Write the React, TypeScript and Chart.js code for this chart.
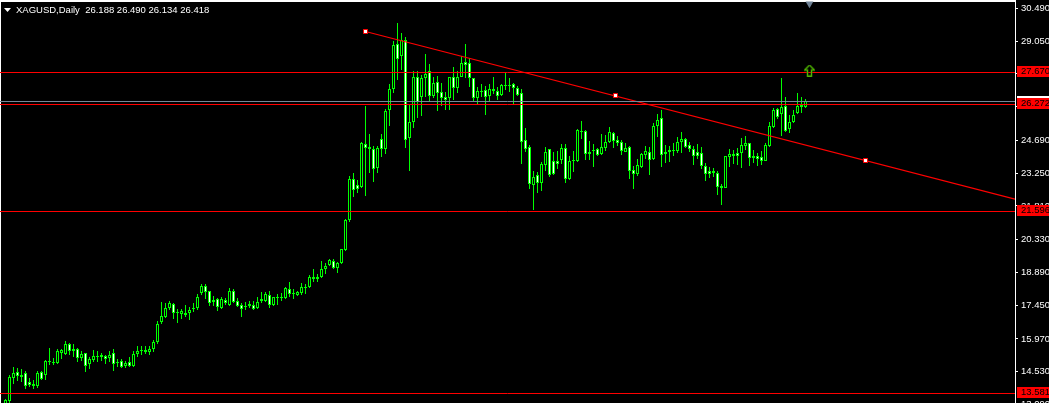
import React, { useEffect, useRef } from "react";
import { Chart, registerables } from "chart.js";

Chart.register(...registerables);

const opens = [13.116,13.248,14.258,14.521,14.389,14.477,14.082,13.907,13.907,14.521,14.389,15.004,14.916,14.916,15.355,15.311,15.750,15.531,15.531,15.136,15.355,14.872,15.048,15.224,15.267,15.224,15.136,15.355,14.960,15.004,14.785,14.960,14.785,15.311,15.487,15.487,15.399,15.531,15.838,16.716,16.936,17.331,17.506,17.155,17.067,17.111,17.111,17.331,17.331,17.989,18.297,18.077,17.682,17.726,17.331,17.682,17.463,18.077,17.638,17.463,17.419,17.506,17.463,17.331,17.726,17.638,17.901,17.463,17.814,17.814,17.770,18.165,17.989,17.901,17.989,18.253,18.253,18.692,18.692,18.692,19.043,19.219,19.394,19.087,19.306,19.877,21.194,22.994,22.730,22.643,24.530,24.399,24.311,23.477,24.750,24.311,26.023,26.945,28.920,28.394,29.096,24.794,25.496,27.472,26.594,27.428,27.735,26.638,27.252,26.813,26.594,26.550,27.472,26.989,27.472,28.130,28.086,27.428,26.550,26.857,26.901,26.638,26.945,26.857,26.682,27.120,27.120,27.164,26.989,26.769,24.706,24.399,22.730,23.170,22.818,23.608,24.311,23.784,23.784,23.828,24.355,22.994,23.828,23.784,25.101,25.101,24.179,24.267,24.311,24.091,24.355,24.618,25.013,24.706,24.618,24.179,24.399,23.389,23.213,23.521,24.047,24.179,23.872,25.321,25.672,24.179,24.267,24.267,24.223,24.618,24.750,24.486,24.311,24.179,24.135,23.565,23.345,23.345,23.257,22.687,22.599,23.960,24.091,24.135,24.135,24.443,24.574,24.004,24.004,23.960,23.784,24.443,25.277,26.067,25.847,26.199,25.189,25.496,25.891,26.243,26.155];
const highs = [13.336,14.389,14.741,14.697,14.653,14.565,14.258,14.170,14.565,14.565,15.048,15.575,15.136,15.531,15.531,15.882,15.794,15.750,15.575,15.443,15.355,15.180,15.487,15.443,15.355,15.267,15.443,15.531,15.092,15.092,15.004,15.180,15.443,15.663,15.663,15.663,15.663,15.926,16.760,17.594,17.550,17.638,17.550,17.287,17.287,17.463,17.375,17.550,17.945,18.384,18.384,18.077,17.858,17.770,17.814,17.770,18.209,18.165,17.770,17.550,17.594,17.638,17.638,17.814,18.033,18.033,18.077,17.814,17.945,17.989,18.253,18.472,18.165,18.077,18.428,18.384,18.780,19.043,18.823,19.394,19.306,19.482,19.482,19.350,19.921,21.238,23.126,23.257,22.950,24.618,26.199,24.969,24.443,24.443,24.969,26.067,27.164,29.052,29.842,29.403,29.228,26.243,27.735,27.735,27.560,28.481,28.042,27.472,27.516,27.208,26.813,27.472,27.911,27.735,28.394,28.920,28.306,27.428,27.033,27.164,27.077,27.164,27.472,27.033,27.164,27.647,27.428,27.208,27.077,26.945,25.233,24.486,23.345,23.301,23.740,24.399,24.311,24.179,24.223,24.530,24.530,24.004,24.223,25.189,25.540,25.145,24.662,24.530,24.355,24.969,24.925,25.277,25.057,24.882,24.706,24.574,24.443,23.565,23.872,24.135,24.443,24.399,25.452,25.847,26.023,24.486,24.443,24.574,24.838,25.057,24.794,24.618,24.443,24.530,24.399,23.696,23.521,23.477,23.345,22.774,24.004,24.311,24.267,24.355,24.794,24.882,24.574,24.267,24.135,24.223,24.574,25.496,26.111,26.111,27.428,26.594,25.804,26.023,26.769,26.594,26.506];
const lows = [13.072,13.160,13.994,14.126,14.082,13.775,13.863,13.775,13.819,14.170,14.170,14.829,14.829,14.872,15.092,15.267,15.267,15.180,14.960,15.004,14.521,14.653,14.960,14.960,15.004,14.872,14.960,14.565,14.741,14.697,14.697,14.741,14.741,15.180,15.267,15.311,15.267,15.399,15.750,16.628,16.892,17.243,16.848,16.672,16.848,16.936,16.804,17.155,17.243,17.901,17.726,17.419,17.419,17.199,17.287,17.463,17.419,17.550,17.375,16.936,17.243,17.331,17.243,17.287,17.550,17.594,17.331,17.419,17.463,17.638,17.726,17.814,17.726,17.858,17.901,17.945,18.209,18.472,18.472,18.648,18.823,19.175,19.043,18.867,19.262,19.833,21.106,22.204,22.379,22.599,22.248,23.257,22.862,23.257,23.960,24.091,25.321,26.769,27.340,27.779,24.355,23.345,25.233,25.672,25.760,26.594,26.418,26.550,25.979,26.199,26.023,26.023,26.462,26.769,27.472,27.428,27.033,26.418,26.286,26.594,25.804,26.374,26.725,26.462,26.638,26.901,26.813,26.286,26.638,23.652,24.179,22.555,21.633,22.379,22.467,23.345,23.082,23.170,23.433,23.652,22.818,22.950,23.301,23.740,24.750,23.828,23.828,23.521,24.004,24.047,24.223,24.574,24.355,24.443,24.047,24.179,22.994,22.555,23.126,23.477,23.872,23.170,23.828,24.838,23.521,23.696,23.740,24.004,24.135,24.135,24.355,24.179,23.608,23.872,23.433,22.906,23.038,23.082,22.292,21.853,22.599,23.521,23.652,23.608,23.477,24.267,23.565,23.696,23.565,23.608,23.784,24.399,25.233,25.628,24.882,25.057,25.013,25.452,25.847,25.891,26.111];
const closes = [13.292,14.302,14.477,14.346,14.302,13.907,13.950,13.994,14.477,14.214,15.004,14.960,14.960,15.443,15.487,15.750,15.443,15.443,15.136,15.311,14.785,15.092,15.224,15.180,15.180,15.092,15.267,14.872,14.916,14.741,14.916,14.785,15.311,15.443,15.443,15.399,15.531,15.838,16.628,16.980,17.331,17.550,17.111,17.111,17.199,17.023,17.243,17.287,17.814,18.297,18.033,17.550,17.594,17.375,17.726,17.550,18.077,17.594,17.419,17.287,17.375,17.419,17.287,17.594,17.638,17.945,17.463,17.814,17.770,17.770,18.209,17.945,17.945,18.033,18.253,18.209,18.692,18.604,18.604,19.043,19.175,19.438,19.087,19.306,19.921,21.194,22.994,22.511,22.555,24.574,24.355,24.311,23.433,24.355,24.311,25.979,26.945,28.877,28.262,29.096,24.706,25.496,27.472,26.374,27.428,27.603,26.638,27.208,26.769,26.550,26.462,27.472,26.989,27.472,28.086,27.998,27.428,26.550,26.857,26.813,26.594,26.945,26.857,26.638,27.120,27.077,27.077,26.989,26.682,24.618,24.311,22.774,23.082,22.818,23.652,24.179,23.170,23.213,23.652,24.355,22.994,23.784,23.784,25.145,25.057,24.091,24.091,24.223,24.047,24.399,24.618,25.057,24.662,24.574,24.223,24.355,23.345,23.213,23.608,24.091,24.223,23.828,25.321,25.584,24.047,24.091,24.179,24.223,24.618,24.750,24.399,24.311,24.004,24.004,23.565,23.213,23.213,23.257,22.643,22.599,24.004,24.091,24.004,24.004,24.486,24.574,23.916,23.916,23.872,23.784,24.486,25.321,26.023,25.716,26.155,25.101,25.496,25.804,26.199,26.155,26.418];

const axisTicks = [30.49,29.05,27.61,26.17,24.69,23.25,21.81,20.33,18.89,17.45,15.97,14.53,13.09];
const redLevels = [27.669,26.264,21.567,13.577];
const redLevelLabels = ["27.670","26.272","21.596","13.581"];
const bidLevel = 26.396;
const trendLine = [{ x: 90, y: 29.469 }, { x: 252.375, y: 22.111 }];
const trendHandles = [{ x: 90, y: 29.469 }, { x: 152.5, y: 26.66 }, { x: 215, y: 23.806 }];
const arrowPoint = [{ x: 201, y: 27.757 }];
const shiftMarker = [{ x: 201, y: 30.69 }];
const legendText = "XAGUSD,Daily  26.188 26.490 26.134 26.418";

const X_MIN = -1.375;
const X_MAX = 252.375;
const Y_MAX = 30.852;
const Y_MIN = 12.853;
const FONT = '9.5px "Liberation Sans", Arial, sans-serif';

function makeArrow(): HTMLCanvasElement {
  const c = document.createElement("canvas");
  c.width = 11;
  c.height = 12;
  const g = c.getContext("2d")!;
  g.beginPath();
  g.moveTo(5.5, 0.5);
  g.lineTo(10.5, 5.5);
  g.lineTo(7.5, 5.5);
  g.lineTo(7.5, 11.5);
  g.lineTo(3.5, 11.5);
  g.lineTo(3.5, 5.5);
  g.lineTo(0.5, 5.5);
  g.closePath();
  g.strokeStyle = "#2e6b00";
  g.lineWidth = 1.8;
  g.stroke();
  g.strokeStyle = "#55c000";
  g.lineWidth = 0.9;
  g.stroke();
  return c;
}

const furniture = {
  id: "furniture",
  beforeDraw(chart: any) {
    const { ctx, width, height } = chart;
    ctx.save();
    ctx.fillStyle = "#000";
    ctx.fillRect(0, 0, width, height);
    ctx.fillStyle = "#fff";
    ctx.fillRect(0, 0, 1016, 2);
    ctx.fillRect(0, 0, 1, height);
    ctx.restore();
  },
  afterDraw(chart: any) {
    const { ctx, scales } = chart;
    const y = scales.y;
    ctx.save();
    ctx.fillStyle = "#fff";
    ctx.beginPath();
    ctx.moveTo(4, 8);
    ctx.lineTo(11, 8);
    ctx.lineTo(7.5, 12);
    ctx.closePath();
    ctx.fill();
    ctx.font = FONT;
    ctx.textBaseline = "middle";
    ctx.textAlign = "left";
    ctx.fillStyle = "#ffffff";
    ctx.fillText(legendText, 16, 10);
    ctx.fillStyle = "#fff";
    ctx.fillRect(1017, Math.round(y.getPixelForValue(bidLevel)) - 6, 32, 11);
    redLevels.forEach((lv, i) => {
      const top = Math.round(y.getPixelForValue(lv)) - 7;
      ctx.fillStyle = "#ff0000";
      ctx.fillRect(1017, top, 32, 11);
      ctx.fillStyle = "#000";
      ctx.fillText(redLevelLabels[i], 1021, top + 5.5);
    });
    ctx.restore();
  },
};

export default function App() {
  const ref = useRef<HTMLCanvasElement>(null);
  useEffect(() => {
    document.body.style.margin = "0";
    document.body.style.background = "#000";
    const idx = opens.map((_, i) => i);
    const lineDs = (v: number, color: string) => ({
      type: "line" as const,
      data: [{ x: X_MIN, y: v }, { x: X_MAX, y: v }],
      borderColor: color,
      borderWidth: 1,
      pointRadius: 0,
      order: 0,
    });
    const chart = new Chart(ref.current!, {
      type: "bar",
      data: {
        datasets: [
          {
            data: idx.map((i) => ({ x: i, y: [lows[i], highs[i]] })),
            backgroundColor: "#00ff00",
            borderWidth: 0,
            barThickness: 1,
            grouped: false,
            inflateAmount: 0,
            order: 3,
          },
          {
            data: idx.map((i) => ({ x: i, y: [opens[i], closes[i]] })),
            backgroundColor: idx.map((i) => (closes[i] >= opens[i] ? "#000000" : "#ffffff")),
            borderColor: "#00ff00",
            borderWidth: 1,
            borderSkipped: false,
            barThickness: 3,
            grouped: false,
            inflateAmount: 0,
            order: 2,
          },
          ...redLevels.map((v) => lineDs(v, "#ff0000")),
          lineDs(bidLevel, "#778899"),
          {
            type: "line" as const,
            data: trendLine,
            borderColor: "#ff0000",
            borderWidth: 1.1,
            pointRadius: 0,
            order: 0,
          },
          {
            type: "scatter" as const,
            data: trendHandles,
            pointStyle: "rect",
            pointRadius: 2.83,
            pointBackgroundColor: "#ffffff",
            pointBorderColor: "#ff0000",
            pointBorderWidth: 1,
            order: -1,
          },
          {
            type: "scatter" as const,
            data: arrowPoint,
            pointStyle: makeArrow(),
            pointRadius: 6,
            order: -1,
          },
          {
            type: "scatter" as const,
            data: shiftMarker,
            pointStyle: "triangle",
            pointRotation: 180,
            pointRadius: 4.5,
            pointBackgroundColor: "#6f8296",
            pointBorderWidth: 0,
            order: -1,
          },
        ] as any,
      },
      options: {
        animation: false,
        responsive: false,
        devicePixelRatio: 1,
        layout: { padding: 0, autoPadding: false },
        plugins: { legend: { display: false }, tooltip: { enabled: false } },
        events: [],
        scales: {
          x: { type: "linear", display: false, min: X_MIN, max: X_MAX, offset: false },
          y: {
            position: "right",
            min: Y_MIN,
            max: Y_MAX,
            afterBuildTicks(s: any) {
              s.ticks = axisTicks.map((value) => ({ value }));
            },
            afterFit(s: any) {
              s.width = 34;
              s.paddingTop = 0;
              s.paddingBottom = 0;
            },
            grid: { drawOnChartArea: false, drawTicks: true, tickLength: 3, tickColor: "#ffffff", tickWidth: 1 },
            border: { display: true, color: "#ffffff", width: 1 },
            ticks: {
              autoSkip: false,
              padding: 3,
              color: "#ffffff",
              font: { family: '"Liberation Sans", Arial, sans-serif', size: 9.5 },
              callback: (v: any) => Number(v).toFixed(3),
            },
          },
        },
      } as any,
      plugins: [furniture],
    });
    return () => chart.destroy();
  }, []);
  return (
    <div style={{ position: "fixed", left: 0, top: 0, width: 1049, height: 403, overflow: "hidden", background: "#000" }}>
      <canvas ref={ref} width={1049} height={410} style={{ display: "block", width: 1049, height: 410 }} />
    </div>
  );
}
